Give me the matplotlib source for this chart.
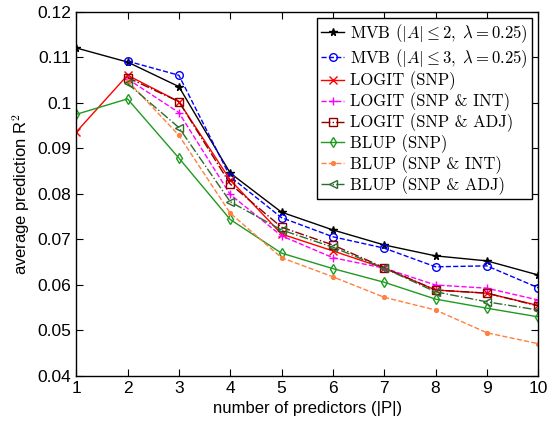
import numpy as np
import matplotlib
matplotlib.use("Agg")
import matplotlib.pyplot as plt
from matplotlib.ticker import FormatStrFormatter
from matplotlib.legend_handler import HandlerLine2D

nan = np.nan

# numero de predictores
predictores = [1, 2, 3, 4, 5, 6, 7, 8, 9, 10]

# R^2 medio de cada metodo
mvb_2 = [0.1121, 0.1090, 0.1036, 0.0846, 0.0760, 0.0721, 0.0688, 0.0664, 0.0653, 0.0622]
mvb_3 = [nan, 0.1092, 0.1061, 0.0838, 0.0748, 0.0706, 0.0681, 0.0640, 0.0642, 0.0594]
logit_snp = [0.0936, 0.1061, 0.1003, 0.0831, 0.0712, 0.0675, 0.0637, 0.0589, 0.0582, 0.0555]
logit_int = [nan, 0.1053, 0.0979, 0.0799, 0.0708, 0.0660, 0.0637, 0.0600, 0.0593, 0.0567]
logit_adj = [nan, 0.1056, 0.1003, 0.0822, 0.0727, 0.0688, 0.0638, 0.0589, 0.0582, 0.0554]
blup_snp = [0.0975, 0.1009, 0.0879, 0.0744, 0.0670, 0.0636, 0.0606, 0.0569, 0.0549, 0.0530]
blup_int = [nan, 0.1049, 0.0929, 0.0758, 0.0660, 0.0618, 0.0573, 0.0545, 0.0495, 0.0471]
blup_adj = [nan, 0.1043, 0.0946, 0.0783, 0.0721, 0.0683, 0.0637, 0.0585, 0.0563, 0.0545]

plt.rcParams['mathtext.fontset'] = 'cm'
plt.rcParams['font.family'] = 'Liberation Sans'


class MarcadorIzquierda(HandlerLine2D):
    # marcador a la izquierda de la linea, como en MATLAB
    def get_xdata(self, legend, xdescent, ydescent, width, height, fontsize):
        xdata = np.array([-xdescent, -xdescent + width])
        return xdata, np.array([-xdescent])


fig = plt.figure(figsize=(5.52, 4.28), dpi=100)
ax = fig.add_axes([0.138, 0.1215, 0.837, 0.8505])

# (datos, etiqueta, color, estilo, marcador, relleno)
series = [
    (mvb_2, r'MVB $(|A| \leq 2,\ \lambda = 0.25)$', 'black', '-', '*', 'black'),
    (mvb_3, r'MVB $(|A| \leq 3,\ \lambda = 0.25)$', 'blue', '--', 'o', 'none'),
    (logit_snp, 'LOGIT (SNP)', 'red', '-', 'x', 'red'),
    (logit_int, 'LOGIT (SNP & INT)', 'magenta', '--', '+', 'magenta'),
    (logit_adj, 'LOGIT (SNP & ADJ)', '#8b0000', '-.', 's', 'none'),
    (blup_snp, 'BLUP (SNP)', '#1f9a1f', '-', 'd', 'none'),
    (blup_int, 'BLUP (SNP & INT)', '#ff8040', '--', '.', '#ff8040'),
    (blup_adj, 'BLUP (SNP & ADJ)', '#2e6b2e', '-.', '<', 'none'),
]

for datos, etiqueta, color, estilo, marcador, relleno in series:
    ax.plot(predictores, datos, linestyle=estilo, color=color, marker=marcador,
            markerfacecolor=relleno, markeredgecolor=color, markersize=5.5,
            linewidth=1.0, label=etiqueta)

ax.set_xlim(1, 10)
ax.set_ylim(0.04, 0.12)
ax.set_xticks(predictores)
ax.set_yticks(np.arange(0.04, 0.1201, 0.01))
ax.yaxis.set_major_formatter(FormatStrFormatter('%g'))
ax.tick_params(direction='in', top=True, right=True, labelsize=12.5, length=5)
for spine in ax.spines.values():
    spine.set_linewidth(1.0)

ax.set_xlabel('number of predictors (|P|)', fontsize=12)
ax.set_ylabel('average prediction R$^2$', fontsize=12)

leg = ax.legend(loc='upper right', prop={'family': 'cmr10', 'size': 12},
                fancybox=False, edgecolor='black', framealpha=1, handlelength=1.4,
                borderaxespad=0.35, labelspacing=0.13, borderpad=0.25, handletextpad=0.35,
                handler_map={plt.Line2D: MarcadorIzquierda()})
leg.get_frame().set_linewidth(1.0)

fig.savefig('out.png', dpi=100)
